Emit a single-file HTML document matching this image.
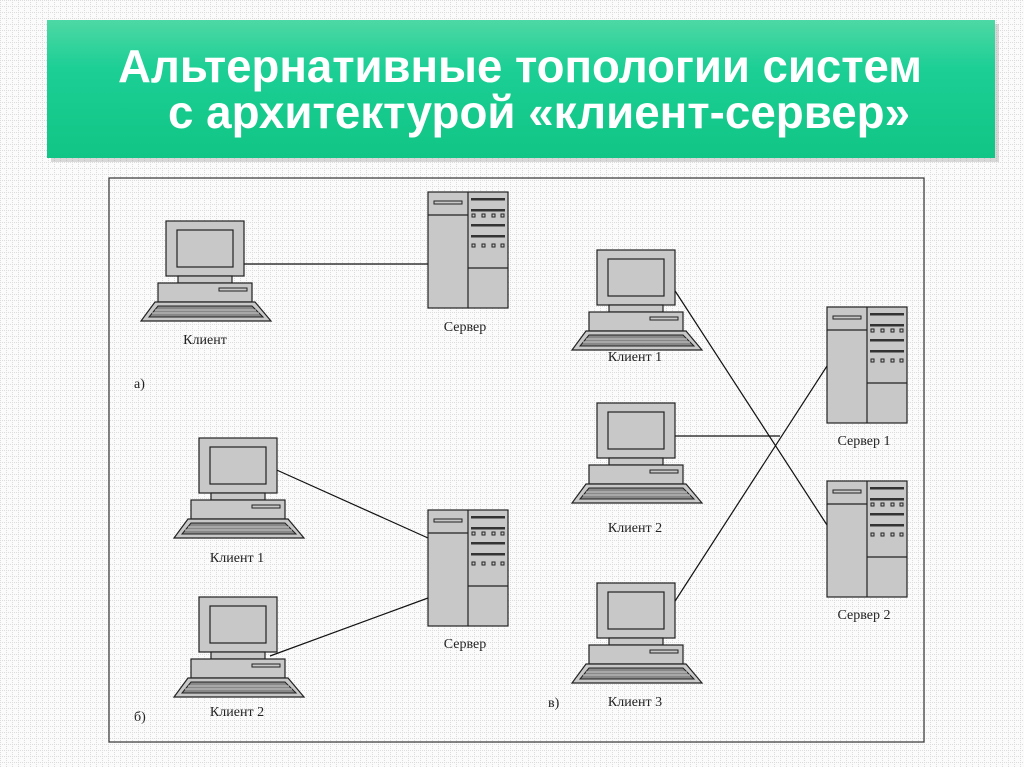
<!DOCTYPE html>
<html><head><meta charset="utf-8"><style>
html,body{margin:0;padding:0;width:1024px;height:767px;overflow:hidden;background:#fbfbfb}
</style></head><body>
<svg width="1024" height="767" viewBox="0 0 1024 767" xmlns="http://www.w3.org/2000/svg">
<defs>
<pattern id="grid" width="6" height="6" patternUnits="userSpaceOnUse">
<rect width="6" height="6" fill="#fbfbfb"/>
<path d="M0 0.5H6M0.5 0V6" stroke="#dcdcdc" stroke-width="1" stroke-dasharray="1,1"/>
</pattern>
<linearGradient id="gr" x1="0" y1="0" x2="0" y2="1">
<stop offset="0" stop-color="#4ed8a5"/><stop offset="0.35" stop-color="#1ccf95"/><stop offset="1" stop-color="#10c585"/>
</linearGradient>
<g id="pc">
<rect x="25" y="0" width="78" height="55" fill="#c8c8c8" stroke="#222" stroke-width="1.2"/>
<rect x="36" y="9" width="56" height="37" fill="#c8c8c8" stroke="#222" stroke-width="1.2"/>
<rect x="37" y="55" width="54" height="7" fill="#c8c8c8" stroke="#222" stroke-width="1.2"/>
<rect x="17" y="62" width="94" height="19" fill="#c8c8c8" stroke="#222" stroke-width="1.2"/>
<rect x="78" y="67" width="28" height="3" fill="#c8c8c8" stroke="#222" stroke-width="1"/>
<polygon points="14,81 114,81 130,100 0,100" fill="#c8c8c8" stroke="#222" stroke-width="1.2"/>
<polygon points="17,85 111,85 122,96 8,96" fill="#888" stroke="#222" stroke-width="1"/>
<path d="M14 89H115M11 92H118" stroke="#c8c8c8" stroke-width="1"/>
</g>
<g id="srv">
<rect x="0" y="0" width="80" height="116" fill="#c8c8c8" stroke="#222" stroke-width="1.2"/>
<path d="M40 0V116M0 23H40M40 76H80" stroke="#222" stroke-width="1.2"/>
<rect x="6" y="9" width="28" height="3" fill="#c8c8c8" stroke="#222" stroke-width="1"/>
<rect x="43" y="6" width="34" height="2.5" fill="#333"/>
<rect x="43" y="17" width="34" height="2.5" fill="#333"/>
<rect x="43" y="32" width="34" height="2.5" fill="#333"/>
<rect x="43" y="43" width="34" height="2.5" fill="#333"/>
<g fill="#c8c8c8" stroke="#222" stroke-width="1">
<rect x="44" y="22" width="3" height="3"/><rect x="54" y="22" width="3" height="3"/><rect x="64" y="22" width="3" height="3"/><rect x="73" y="22" width="3" height="3"/>
<rect x="44" y="52" width="3" height="3"/><rect x="54" y="52" width="3" height="3"/><rect x="64" y="52" width="3" height="3"/><rect x="73" y="52" width="3" height="3"/>
</g>
</g>
</defs>
<rect width="1024" height="767" fill="url(#grid)"/>
<rect x="51" y="24" width="948" height="138" fill="#999" opacity="0.35"/>
<rect x="47" y="20" width="948" height="138" fill="url(#gr)"/>
<g font-family="Liberation Sans, sans-serif" font-weight="bold" fill="#fff" font-size="46">
<text x="118" y="82" textLength="804" lengthAdjust="spacingAndGlyphs">Альтернативные топологии систем</text>
<text x="168" y="128" textLength="742" lengthAdjust="spacingAndGlyphs">с архитектурой «клиент-сервер»</text>
</g>
<rect x="109" y="178" width="815" height="564" fill="url(#grid)" stroke="#333" stroke-width="1.2"/>
<g stroke="#111" stroke-width="1.2" fill="none">
<path d="M244 264H428"/>
<path d="M270 467L428 538"/>
<path d="M270 656L428 598"/>
<path d="M668 280L827 525"/>
<path d="M668 436H780"/>
<path d="M668 612L827 366"/>
</g>
<use href="#pc" x="141" y="221"/>
<use href="#srv" x="428" y="192"/>
<use href="#pc" x="174" y="438"/>
<use href="#pc" x="174" y="597"/>
<use href="#srv" x="428" y="510"/>
<use href="#pc" x="572" y="250"/>
<use href="#pc" x="572" y="403"/>
<use href="#pc" x="572" y="583"/>
<use href="#srv" x="827" y="307"/>
<use href="#srv" x="827" y="481"/>
<g font-family="Liberation Serif, serif" font-size="14" fill="#222" text-anchor="middle">
<text x="205" y="344">Клиент</text>
<text x="465" y="331">Сервер</text>
<text x="237" y="562">Клиент 1</text>
<text x="237" y="716">Клиент 2</text>
<text x="465" y="648">Сервер</text>
<text x="635" y="361">Клиент 1</text>
<text x="635" y="532">Клиент 2</text>
<text x="635" y="706">Клиент 3</text>
<text x="864" y="445">Сервер 1</text>
<text x="864" y="619">Сервер 2</text>
</g>
<g font-family="Liberation Serif, serif" font-size="14" fill="#222">
<text x="134" y="388">а)</text>
<text x="134" y="721">б)</text>
<text x="548" y="707">в)</text>
</g>
</svg>
</body></html>
